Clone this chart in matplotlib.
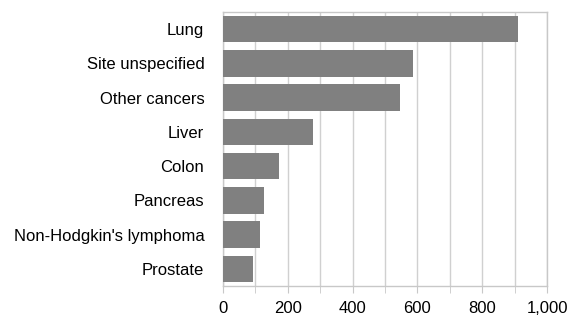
import matplotlib
matplotlib.use("Agg")
import matplotlib.pyplot as plt
import matplotlib.ticker as ticker

# Categories (top to bottom) and values
causes = ["Lung", "Site unspecified", "Other cancers", "Liver", "Colon",
          "Pancreas", "Non-Hodgkin's lymphoma", "Prostate"]
deaths = [909, 585, 547, 278, 173, 127, 114, 93]

plt.rcParams["font.family"] = ["Liberation Sans", "DejaVu Sans"]

fig = plt.figure(figsize=(5.82, 3.16), dpi=100)
ax = fig.add_axes([223 / 582, 1 - 286 / 316, 324 / 582, 274 / 316])

pos = list(range(len(causes)))
ax.barh(pos, deaths, height=0.78, color="#808080", zorder=3)

ax.set_ylim(len(causes) - 0.5, -0.5)
ax.set_yticks(pos)
ax.set_yticklabels(causes, fontsize=12)
ax.tick_params(axis="y", length=0, pad=13.5)

ax.set_xlim(0, 1000)
ax.set_xticks(range(0, 1001, 200))
ax.xaxis.set_minor_locator(ticker.MultipleLocator(100))
ax.xaxis.set_major_formatter(ticker.FuncFormatter(lambda v, _: f"{int(v):,}"))
ax.tick_params(axis="x", which="both", labelsize=12, length=5,
               color="#c8c8c8", pad=6)
ax.grid(True, axis="x", which="both", color="#d0d0d0", linewidth=1, zorder=0)

for side in ["top", "right", "bottom", "left"]:
    ax.spines[side].set_color("#c8c8c8")
    ax.spines[side].set_linewidth(1)

fig.savefig("out.png", dpi=100)
